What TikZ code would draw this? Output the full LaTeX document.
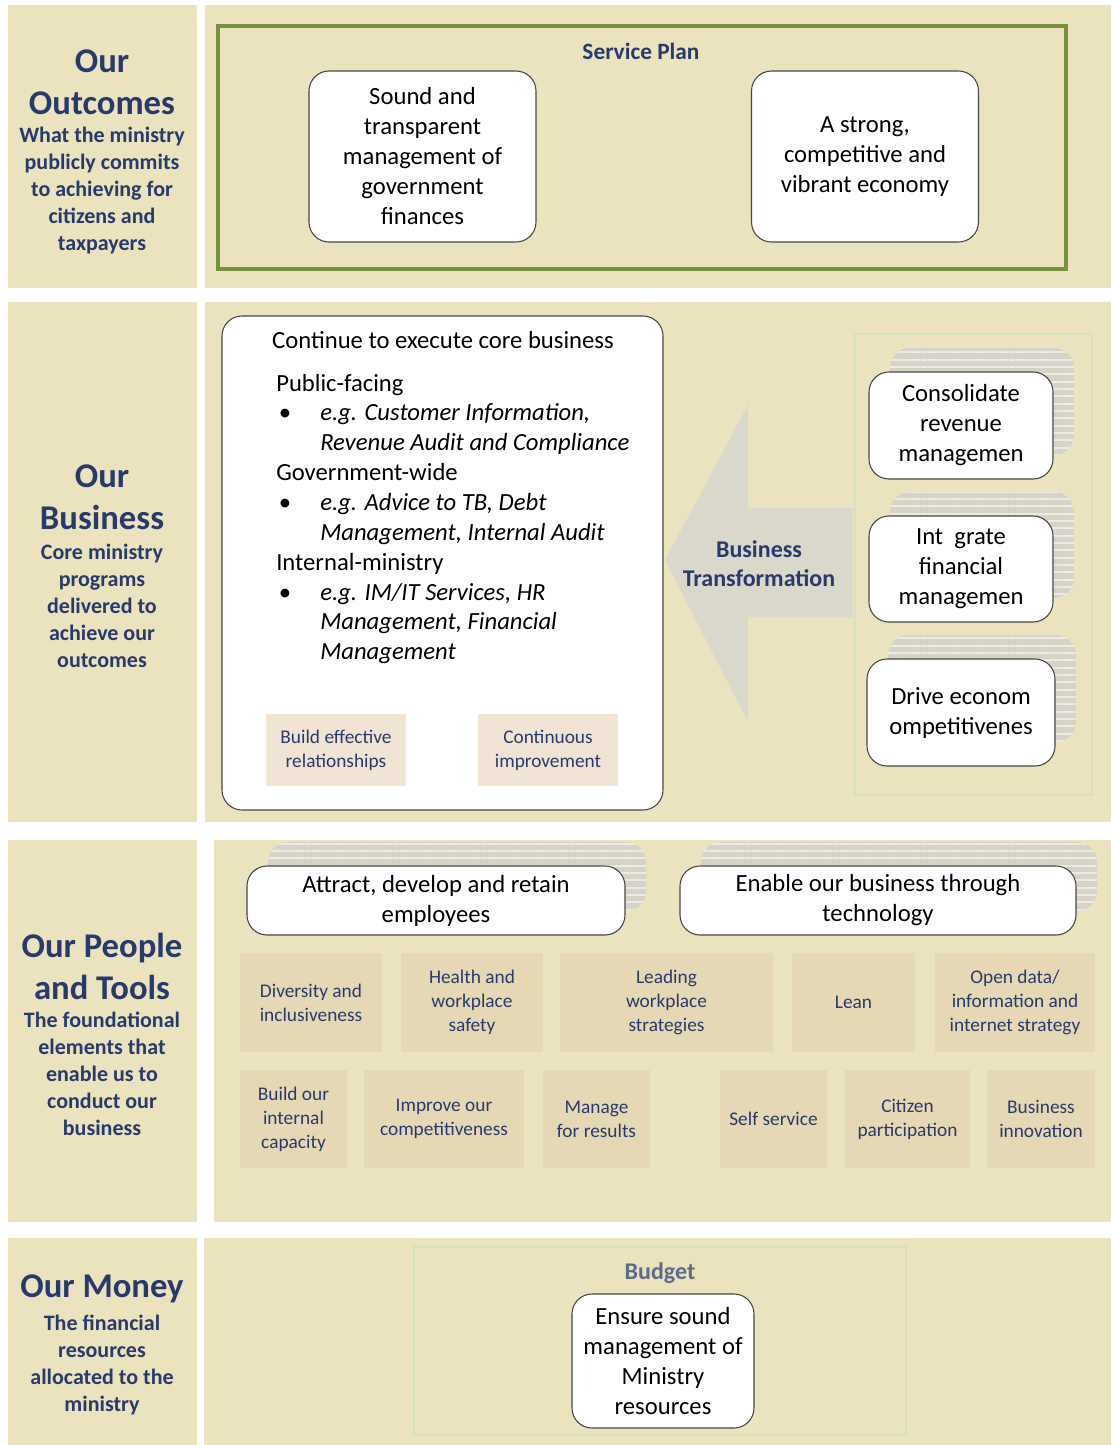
\documentclass[tikz,border=0pt]{standalone}
\usepackage{fontspec}
\setmainfont{Carlito}
\usetikzlibrary{shadows,patterns.meta}

\definecolor{panelbg}{RGB}{235,227,190}
\definecolor{navy}{RGB}{40,58,108}
\definecolor{boxline}{RGB}{70,70,70}
\definecolor{olive}{RGB}{118,146,60}
\definecolor{paleframe}{RGB}{214,226,184}
\definecolor{toolbg}{RGB}{230,216,180}
\definecolor{habitbg}{RGB}{241,228,212}
\definecolor{arrowfill}{RGB}{218,216,203}
\definecolor{stackgray}{RGB}{214,211,198}
\definecolor{budgetblue}{RGB}{95,107,138}

\newcommand{\corebul}{\makebox[33pt][l]{\hspace{2pt}\textbullet}}
\newcommand{\coreind}{\hspace*{33pt}}

\tikzset{
    panel/.style={fill=panelbg},
    headtitle/.style={text=navy, align=center, inner sep=0pt, font=\fontsize{26}{31.5}\selectfont\bfseries},
    headsub/.style={text=navy, align=center, inner sep=0pt, font=\fontsize{16.5}{20.25}\selectfont\bfseries},
    goal/.style={draw=boxline, line width=0.8pt, fill=white, rounded corners=15pt, inner sep=0pt, align=center, font=\fontsize{18.5}{22.5}\selectfont},
    stack/.style={
        copy shadow={shadow xshift=15.75pt, shadow yshift=18pt, draw=none, fill=stackgray},
        copy shadow={shadow xshift=15.75pt, shadow yshift=18pt, draw=none, pattern={Lines[angle=0, distance=5.5pt, line width=1.6pt]}, pattern color=white!55!stackgray}},
    tool/.style={fill=toolbg, inner sep=0pt, align=center, text=navy, font=\fontsize{14.5}{18}\selectfont},
    habit/.style={tool, fill=habitbg},
    caption/.style={text=navy, align=center, inner sep=0pt, font=\fontsize{18}{22}\selectfont\bfseries},
    listtxt/.style={align=left, inner sep=0pt, font=\fontsize{18.5}{22.4}\selectfont},
}

\begin{document}
\begin{tikzpicture}[x=0.75pt, y=-0.75pt]
    \useasboundingbox (0,0) rectangle (1111,1445);
    \fill[white] (0,0) rectangle (1111,1445);

    %outcomes
    \fill[panel] (8,5) rectangle (197,288);
    \fill[panel] (205,5) rectangle (1111,288);
    \node[headtitle] (outT) at (102,82) {Our\\Outcomes};
    \node[headsub] (outS) at (102,190.5) {What the ministry\\publicly commits\\to achieving for\\citizens and\\taxpayers};
    \draw[olive, line width=3pt] (218,26) rectangle (1066,269);
    \node[caption, font=\fontsize{17.5}{21}\selectfont\bfseries] (plan) at (641,51) {Service Plan};
    \node[goal, minimum width=170.25pt, minimum height=128.25pt] (sound) at (422.5,156.5)
        {Sound and\\transparent\\management of\\government\\finances};
    \node[goal, minimum width=170.25pt, minimum height=128.25pt] (strong) at (865,156.5)
        {A strong,\\competitive and\\vibrant economy};

    %business
    \fill[panel] (8,302) rectangle (197,822);
    \fill[panel] (205,302) rectangle (1111,822);
    \node[headtitle] (busT) at (102,497) {Our\\Business};
    \node[headsub] (busS) at (102,605.5) {Core ministry\\programs\\delivered to\\achieve our\\outcomes};
    \fill[arrowfill] (665,560) -- (748,405) -- (748,508) -- (853,508) -- (853,617) -- (748,617) -- (748,722) -- cycle;
    \node[caption] (transf) at (759,563.5) {Business\\Transformation};
    \node[goal, minimum width=330.75pt, minimum height=370.5pt] (core) at (442.5,563) {};
    \node[goal, draw=none, fill=none] (coreT) at (443,340) {Continue to execute core business};
    \node[listtxt, anchor=west] (coreL) at (276,519) {Public-facing\\
        \corebul\textit{e.g. Customer Information,}\\
        \coreind\textit{Revenue Audit and Compliance}\\
        Government-wide\\
        \corebul\textit{e.g. Advice to TB, Debt}\\
        \coreind\textit{Management, Internal Audit}\\
        Internal-ministry\\
        \corebul\textit{e.g. IM/IT Services, HR}\\
        \coreind\textit{Management, Financial}\\
        \coreind\textit{Management}};
    \node[habit, minimum width=105pt, minimum height=54pt] (relat) at (336,750) {Build effective\\relationships};
    \node[habit, minimum width=105pt, minimum height=54pt] (improv) at (548,750) {Continuous\\improvement};
    \draw[paleframe, line width=2pt] (855,334) rectangle (1092,795);
    \node[goal, stack, minimum width=138pt, minimum height=80.25pt] (consol) at (961,425.5)
        {Consolidate\\revenue\\managemen};
    \node[goal, stack, minimum width=138pt, minimum height=79.5pt] (integ) at (961,569)
        {Int\ \ grate\\financial\\managemen};
    \node[goal, stack, minimum width=141pt, minimum height=80.25pt] (drive) at (961,712.5)
        {Drive econom\\ompetitivenes};

    %people and tools
    \fill[panel] (8,840) rectangle (197,1222);
    \fill[panel] (214,840) rectangle (1111,1222);
    \node[headtitle] (pplT) at (102,966) {Our People\\and Tools};
    \node[headsub] (pplS) at (102,1074) {The foundational\\elements that\\enable us to\\conduct our\\business};
    \node[goal, stack, minimum width=283.5pt, minimum height=51.75pt] (attract) at (436,900.5)
        {Attract, develop and retain\\employees};
    \node[goal, stack, minimum width=297pt, minimum height=51.75pt] (enable) at (878,900.5)
        {Enable our business through\\technology};
    \node[tool, minimum width=106.5pt, minimum height=74.25pt] (divers) at (311,1002.5) {Diversity and\\inclusiveness};
    \node[tool, minimum width=106.5pt, minimum height=74.25pt] (health) at (472,1002.5) {Health and\\workplace\\safety};
    \node[tool, minimum width=159.75pt, minimum height=74.25pt] (leading) at (666.5,1002.5) {Leading\\workplace\\strategies};
    \node[tool, minimum width=92.25pt, minimum height=74.25pt] (lean) at (853.5,1002.5) {Lean};
    \node[tool, minimum width=120pt, minimum height=74.25pt] (opendata) at (1015,1002.5) {Open data/\\information and\\internet strategy};
    \node[tool, minimum width=80.25pt, minimum height=73.5pt] (capac) at (293.5,1119) {Build our\\internal\\capacity};
    \node[tool, minimum width=120pt, minimum height=73.5pt] (compet) at (444,1119) {Improve our\\competitiveness};
    \node[tool, minimum width=80.25pt, minimum height=73.5pt] (results) at (596.5,1119) {Manage\\for results};
    \node[tool, minimum width=80.25pt, minimum height=73.5pt] (selfserv) at (773.5,1119) {Self service};
    \node[tool, minimum width=93.75pt, minimum height=73.5pt] (citizen) at (907.5,1119) {Citizen\\participation};
    \node[tool, minimum width=81pt, minimum height=73.5pt] (innov) at (1041,1119) {Business\\innovation};

    %money
    \fill[panel] (8,1238) rectangle (197,1445);
    \fill[panel] (204,1238) rectangle (1111,1445);
    \node[headtitle] (monT) at (102,1289) {Our Money};
    \node[headsub] (monS) at (102,1365) {The financial\\resources\\allocated to the\\ministry};
    \draw[paleframe, line width=2pt] (414,1247) rectangle (906,1435);
    \node[caption, text=budgetblue] (budget) at (660,1273) {Budget};
    \node[goal, minimum width=136.5pt, minimum height=100.5pt] (ensure) at (663,1361)
        {Ensure sound\\management of\\Ministry\\resources};
\end{tikzpicture}
\end{document}
